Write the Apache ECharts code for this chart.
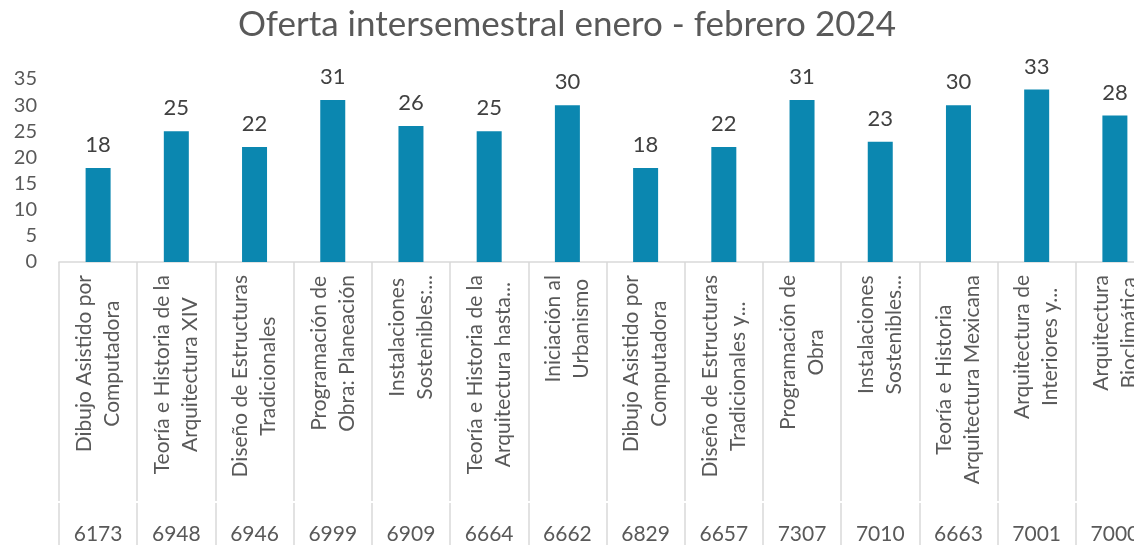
<!DOCTYPE html>
<html>
<head>
<meta charset="utf-8">
<title>Oferta intersemestral</title>
<script src="https://cdn.jsdelivr.net/npm/echarts@6/dist/echarts.min.js"></script>
<style>
    html, body { margin: 0; padding: 0; background: #fff; }
    #main { width: 1134px; height: 545px; }
</style>
</head>
<body>
<div id="main"></div>
<script>
// nombres de materias (con salto de linea como en la grafica)
var materias = [
    'Dibujo Asistido por\nComputadora',
    'Teoría e Historia de la\nArquitectura XIV',
    'Diseño de Estructuras\nTradicionales',
    'Programación de\nObra: Planeación',
    'Instalaciones\nSostenibles:...',
    'Teoría e Historia de la\nArquitectura hasta...',
    'Iniciación al\nUrbanismo',
    'Dibujo Asistido por\nComputadora',
    'Diseño de Estructuras\nTradicionales y...',
    'Programación de\nObra',
    'Instalaciones\nSostenibles...',
    'Teoría e Historia\nArquitectura Mexicana',
    'Arquitectura de\nInteriores y...',
    'Arquitectura\nBioclimática'
];
var claves = ['6173', '6948', '6946', '6999', '6909', '6664', '6662', '6829', '6657', '7307', '7010', '6663', '7001', '7000'];
var cupo = [18, 25, 22, 31, 26, 25, 30, 18, 22, 31, 23, 30, 33, 28];
var yTicks = {min: 0, max: 35, interval: 5};

var fuente = 'Lato, "Open Sans", sans-serif';
var gris = '#d9d9d9';

function init() {
    var chart = echarts.init(document.getElementById('main'));
    var option = {
        animation: false,
        title: {
            text: 'Oferta intersemestral enero - febrero 2024',
            left: 'center',
            top: 2,
            textStyle: {fontFamily: fuente, fontSize: 35, fontWeight: 'normal', color: '#595959'}
        },
        grid: {left: 59, top: 79, width: 1095, bottom: 283, outerBoundsMode: 'none'},
        xAxis: [{
            type: 'category',
            data: claves,
            position: 'bottom',
            axisLine: {show: true, lineStyle: {color: gris, width: 1.5}},
            axisTick: {show: true, length: 239, lineStyle: {color: gris, width: 1.5}},
            axisLabel: {
                show: true,
                interval: 0,
                rotate: 90,
                margin: 13,
                fontFamily: fuente,
                fontSize: 21,
                lineHeight: 28,
                color: '#595959',
                // cada renglon centrado dentro del bloque
                formatter: function (v, i) {
                    return materias[i].split('\n').map(function (s) {
                        return '{c|' + s + '}';
                    }).join('\n');
                },
                rich: {c: {align: 'center', fontFamily: fuente, fontSize: 21, lineHeight: 28, color: '#595959'}}
            }
        }, {
            type: 'category',
            data: claves,
            position: 'bottom',
            offset: 241,
            axisLine: {show: false},
            axisTick: {show: true, length: 60, lineStyle: {color: gris, width: 1.5}},
            axisLabel: {show: true, interval: 0, margin: 21, fontFamily: fuente, fontSize: 21, color: '#595959'}
        }],
        yAxis: {
            type: 'value',
            min: yTicks.min,
            max: yTicks.max,
            interval: yTicks.interval,
            axisLine: {show: false},
            axisTick: {show: false},
            splitLine: {show: false},
            axisLabel: {margin: 22, fontFamily: fuente, fontSize: 20, color: '#595959'}
        },
        series: [{
            type: 'bar',
            data: cupo,
            barWidth: 25,
            itemStyle: {color: '#0B87B0'},
            label: {
                show: true,
                position: 'top',
                distance: 12,
                fontFamily: fuente,
                fontSize: 22,
                color: '#404040'
            }
        }]
    };
    chart.setOption(option);
}
init();
</script>
</body>
</html>
